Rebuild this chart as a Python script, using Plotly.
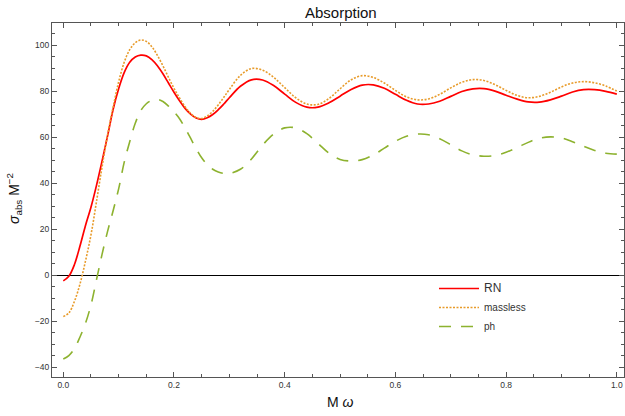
import plotly.graph_objects as go

# ---- data ----
x_early = [round(i * 0.01, 2) for i in range(31)]
x_late = [round(0.32 + i * 0.02, 2) for i in range(35)]
x_vals = x_early + x_late

rn_vals = [-2.5, -0.5, 4.5, 12.5, 21.5, 29.5, 39, 49.5, 60.5, 72, 81, 88, 92.5, 94.8, 95.6, 95.3,
           93.7, 91, 87.5, 83.5, 79.5, 75.8, 72.5, 70, 68.3, 67.7, 68.4, 69.8, 71.9, 74.4, 77.1,
           82.1, 84.9, 84.8, 82.4, 78.7, 75.1, 73.0, 73.0, 74.9, 77.8, 80.7, 82.6, 82.7, 81.2,
           78.6, 76.0, 74.4, 74.4, 75.6, 77.7, 79.8, 81.0, 81.1, 80.0, 78.2, 76.5, 75.3, 75.2,
           76.2, 77.8, 79.6, 80.6, 80.6, 79.9, 78.7]

massless_vals = [-18, -16.5, -11.5, -4, 6, 17.5, 32, 47, 61, 73, 84, 92.5, 98, 101, 102.2, 101.6,
                 99.3, 95.5, 91, 86, 81.2, 77, 73.2, 70.3, 68.5, 68.1, 69.2, 71.2, 74.0, 77.3, 80.7,
                 86.8, 89.8, 89.1, 86.0, 81.5, 77.1, 74.4, 74.2, 76.8, 81.0, 84.9, 86.7, 85.9, 83.5,
                 80.3, 77.5, 76.2, 76.6, 78.6, 81.4, 83.8, 85.0, 84.6, 82.8, 80.3, 78.1, 77.1, 77.7,
                 79.5, 81.8, 83.5, 84.1, 83.6, 82.2, 80.0]

ph_vals = [-36.5, -35, -32, -27, -21, -13, -2, 9, 19, 28, 37.5, 49, 58, 66, 71.5, 74.5,
           76, 76.4, 75.5, 73.5, 71, 68, 64, 59.5, 55, 51, 48, 46, 44.8, 44.2, 44.2,
           46, 50.5, 56.5, 61.3, 64, 64, 61.5, 57.3, 53, 50.3, 49.6, 50.2, 52.2, 55.2,
           58.2, 60.4, 61.3, 61, 59.3, 56.7, 54, 52.3, 51.7, 52, 53.4, 55.5, 57.7, 59.5,
           60.1, 59.6, 58, 56, 54.2, 53, 52.6]

x_ticks = [0.0, 0.2, 0.4, 0.6, 0.8, 1.0]
y_ticks = [-40, -20, 0, 20, 40, 60, 80, 100]

FONT = "Liberation Sans"

ML, MR, MT, MB = 52, 1, 23, 39
W, H = 625, 416
plot_w = W - ML - MR
plot_h = H - MT - MB


def px_to_paper(px, py):
    return (px - ML) / plot_w, 1 - (py - MT) / plot_h


fig = go.Figure()
fig.add_trace(go.Scatter(x=x_vals, y=rn_vals, mode="lines", name="<span style='font-size:12px'>RN</span>",
                         line=dict(color="#FF0000", width=1.7, shape="spline")))
fig.add_trace(go.Scatter(x=x_vals, y=massless_vals, mode="lines", name="massless",
                         line=dict(color="#E89B2A", width=1.6, dash="2px,1.5px", shape="spline")))
fig.add_trace(go.Scatter(x=x_vals, y=ph_vals, mode="lines", name="ph",
                         line=dict(color="#8DB22F", width=1.6, dash="12px,10px", shape="spline")))

axis_common = dict(showline=True, linecolor="#555555", linewidth=1, mirror="ticks",
                   ticks="inside", ticklen=5, tickwidth=1, tickcolor="#555555",
                   showgrid=False, tickfont=dict(family=FONT, size=8.5, color="#333333"))

fig.update_xaxes(range=[-0.0204, 1.013], tickvals=x_ticks, tickformat=".1f", zeroline=False,
                 minor=dict(dtick=0.05, ticks="inside", ticklen=3, tickcolor="#555555", showgrid=False),
                 **axis_common)
fig.update_yaxes(range=[-44.3, 109.6], tickvals=y_ticks, zeroline=True, zerolinecolor="#000000",
                 zerolinewidth=1.2,
                 minor=dict(dtick=5, ticks="inside", ticklen=3, tickcolor="#555555", showgrid=False),
                 **axis_common)

tx, ty = px_to_paper(341, 12)
yx, yy = px_to_paper(14, 199)
xx, xy = px_to_paper(340, 402)
lx, ly = px_to_paper(434, 274)

fig.update_layout(
    width=W, height=H,
    margin=dict(l=ML, r=MR, t=MT, b=MB),
    plot_bgcolor="white", paper_bgcolor="white",
    showlegend=True,
    legend=dict(x=lx, y=ly, xanchor="left", yanchor="top", bgcolor="rgba(0,0,0,0)",
                font=dict(family=FONT, size=10, color="#333333"), itemwidth=40,
                tracegroupgap=0),
    annotations=[
        dict(text="Absorption", x=tx, y=ty, xref="paper", yref="paper", showarrow=False,
             xanchor="center", yanchor="middle",
             font=dict(family=FONT, size=15, color="#111111")),
        dict(text="<i>σ</i><sub>abs</sub> M<sup>−2</sup>", x=yx, y=yy, xref="paper", yref="paper",
             xanchor="center", yanchor="middle",
             showarrow=False, textangle=-90, font=dict(family=FONT, size=14, color="#111111")),
        dict(text="M <i>ω</i>", x=xx, y=xy, xref="paper", yref="paper", showarrow=False,
             xanchor="center", yanchor="middle",
             font=dict(family=FONT, size=14, color="#111111")),
    ],
)

fig.write_html("out.html")
